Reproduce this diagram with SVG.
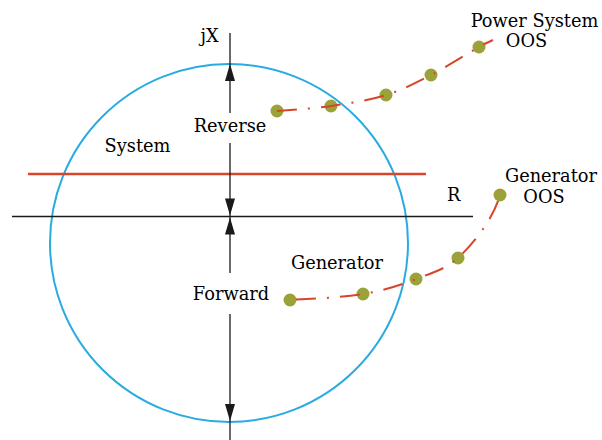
<svg xmlns="http://www.w3.org/2000/svg" width="602" height="440" viewBox="0 0 602 440">
  <style>
    .t { font-family: "DejaVu Serif", "Liberation Serif", serif; font-size: 17.8px; fill: #000000; }
    .ax { stroke: #1a1a1a; stroke-width: 1.3; fill: none; }
    .dot { fill: #9ca23a; }
    .path { stroke: #d9452b; stroke-width: 2; fill: none; stroke-dasharray: 20 11 2 11; }
    .ah { fill: #1a1a1a; }
  </style>
  <defs>
    <polygon id="arrUp" points="0,0 -5,17 5,17"/>
    <polygon id="arrDown" points="0,0 -5,-17 5,-17"/>
  </defs>
  <rect width="602" height="440" fill="#ffffff"/>

  <g id="impedance-circle">
    <circle cx="229" cy="243" r="179" fill="none" stroke="#29abe2" stroke-width="2"/>
  </g>

  <g id="blinder-line">
    <line x1="28" y1="174" x2="426" y2="174" stroke="#d9452b" stroke-width="2.6"/>
  </g>

  <g id="connectors">
    <line class="ax" x1="12" y1="216.5" x2="473" y2="216.5"/>
    <line class="ax" x1="230" y1="33" x2="230" y2="113"/>
    <line class="ax" x1="230" y1="143" x2="230" y2="273"/>
    <line class="ax" x1="230" y1="314" x2="230" y2="440"/>
    <use href="#arrUp" class="ah" x="230" y="64"/>
    <use href="#arrDown" class="ah" x="230" y="215.5"/>
    <use href="#arrUp" class="ah" x="230" y="217.5"/>
    <use href="#arrDown" class="ah" x="230" y="421"/>
  </g>

  <g id="power-system-oos">
    <circle class="dot" cx="277" cy="111" r="6.5"/>
    <circle class="dot" cx="331" cy="106" r="6.5"/>
    <circle class="dot" cx="386" cy="95" r="6.5"/>
    <circle class="dot" cx="431" cy="75" r="6.5"/>
    <circle class="dot" cx="479" cy="47" r="6.5"/>
    <path class="path" d="M277,111 C286,110.2 312.8,108.7 331,106 C349.2,103.3 369.3,100.2 386,95 C402.7,89.8 415.5,83 431,75 C446.5,67 468.7,52.8 479,47 C486,43 489,42 493,40"/>
  </g>

  <g id="generator-oos">
    <circle class="dot" cx="290" cy="300" r="6.5"/>
    <circle class="dot" cx="363" cy="294" r="6.5"/>
    <circle class="dot" cx="416" cy="279" r="6.5"/>
    <circle class="dot" cx="458" cy="258" r="6.5"/>
    <circle class="dot" cx="500" cy="195" r="6.5"/>
    <path class="path" d="M296,299.6 C310,299 342,297.5 363,294 C384,290.5 400.5,285 416,279 C431.5,273 444,270 458,258 C472,245 493,220 500,195 C500.5,193 500.8,191.5 501,190"/>
  </g>

  <g id="labels">
    <text class="t" x="200.5" y="42">jX</text>
    <text class="t" x="230" y="132" text-anchor="middle">Reverse</text>
    <text class="t" x="137.5" y="152" text-anchor="middle">System</text>
    <text class="t" x="447" y="201">R</text>
    <text class="t" x="534.5" y="27" text-anchor="middle">Power System</text>
    <text class="t" x="526.5" y="47" text-anchor="middle">OOS</text>
    <text class="t" x="551" y="182" text-anchor="middle">Generator</text>
    <text class="t" x="544" y="203" text-anchor="middle">OOS</text>
    <text class="t" x="337" y="269" text-anchor="middle">Generator</text>
    <text class="t" x="231" y="300" text-anchor="middle">Forward</text>
  </g>
</svg>
